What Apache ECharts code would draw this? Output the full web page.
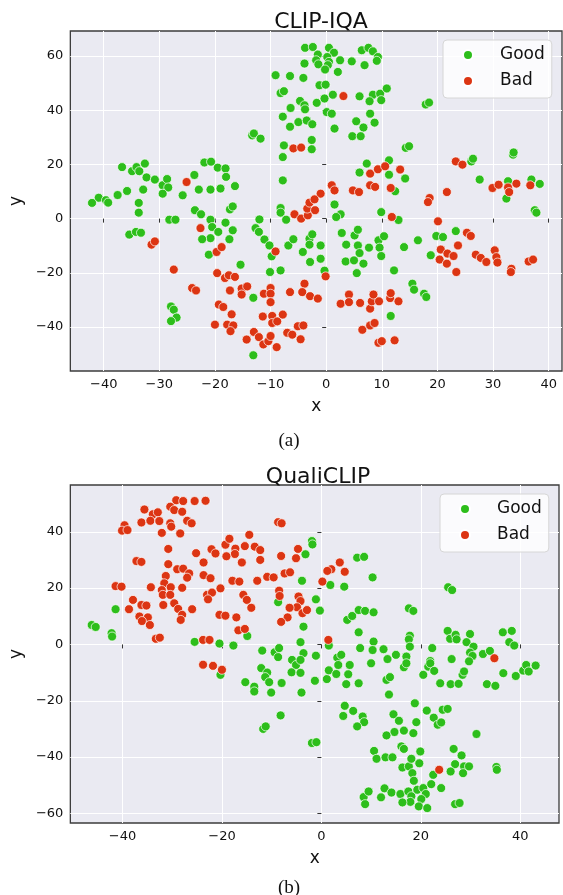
<!DOCTYPE html>
<html>
<head>
<meta charset="utf-8">
<script src="https://cdn.jsdelivr.net/npm/echarts@6/dist/echarts.min.js"></script>
<style>
html,body{margin:0;padding:0;background:#fff;}
#c{width:563px;height:895px;}
</style>
</head>
<body>
<div id="c"></div>
<script>
// ---- tick labels ----
const clipXTicks = [-40, -30, -20, -10, 0, 10, 20, 30, 40];
const clipYTicks = [-40, -20, 0, 20, 40, 60];
const qualiXTicks = [-40, -20, 0, 20, 40];
const qualiYTicks = [-60, -40, -20, 0, 20, 40];
const legendNames = ['Good', 'Bad'];

// ---- (a) CLIP-IQA ----
const clipGood = [
[-3.8,63.0],[-2.4,63.3],[-1.5,60.5],[-3.9,57.2],[-1.8,58.4],[-1.4,56.9],[-9.1,52.9],[-6.5,52.6],[-4.1,51.9],[-1.2,49.2],
[-8.2,46.3],[-7.6,47.0],[-4.7,43.4],[-3.9,41.8],[-3.8,40.3],[-6.4,40.8],[-1.7,42.7],[-7.8,37.6],[-5.0,35.6],[-3.5,36.2],
[-2.5,34.8],[-6.5,33.9],[-13.3,30.7],[-13.0,31.4],[-11.8,29.5],[-7.6,27.0],[-2.6,29.0],[-2.6,25.6],[-7.8,22.7],[-7.8,14.1],
[-36.7,19.0],[-34.9,17.5],[-34.1,19.0],[-33.6,17.5],[-32.6,20.3],[-32.3,15.2],[-30.8,14.4],[-29.4,12.3],[-28.6,14.6],[-28.4,11.5],
[-29.4,9.2],[-32.9,10.7],[-35.8,10.2],[-37.5,8.7],[-40.9,7.7],[-42.1,5.8],[-39.6,6.8],[-39.2,5.9],[-33.7,5.8],[-25.8,8.6],
[-23.7,16.1],[-21.9,20.7],[-20.7,21.0],[-19.5,18.8],[-18.1,18.5],[-18.0,15.4],[-22.9,10.7],[-20.8,10.7],[-19.0,11.1],[-16.4,12.0],
[0.5,63.0],[1.4,61.2],[0.2,59.6],[0.5,57.8],[0.3,56.6],[-0.2,55.0],[2.1,54.1],[2.5,58.4],[4.6,58.0],[6.4,62.1],
[7.6,63.0],[8.4,61.7],[9.3,59.6],[9.1,58.2],[6.9,56.6],[-0.1,49.4],[-0.3,44.3],[1.2,45.7],[6.0,45.1],[8.4,45.7],
[9.7,46.1],[10.9,48.0],[7.8,43.3],[9.9,43.7],[0.1,39.3],[1.0,38.7],[7.9,38.7],[17.9,42.1],[18.5,42.8],[5.4,35.9],
[8.7,35.4],[6.7,33.6],[1.5,33.2],[4.7,30.4],[6.2,30.4],[14.3,26.1],[14.9,26.7],[7.3,20.3],[11.3,21.5],[6.0,17.0],
[11.3,16.2],[14.2,14.8],[12.4,10.1],[26.1,21.1],[26.4,22.1],[33.6,23.6],[33.7,24.4],[27.6,14.4],[32.7,13.8],[36.9,14.4],
[38.4,12.8],[32.4,7.4],
[-33.7,2.2],[-35.4,-5.9],[-34.2,-4.9],[-33.3,-5.2],[-28.2,-0.4],[-27.1,-0.4],[-23.6,3.1],[-22.5,1.6],[-20.8,-0.4],[-20.5,-3.1],
[-19.4,-4.9],[-20.8,-7.2],[-22.3,-7.6],[-18.1,-1.5],[-16.8,-4.3],[-17.4,-7.6],[-17.3,3.4],[-16.8,4.5],[-21.1,-13.3],[-15.4,-17.0],
[-12.0,-0.3],[-12.7,-3.5],[-12.1,-4.9],[-11.1,-7.7],[-10.2,-9.9],[-9.8,-13.9],[-8.2,3.9],[-8.2,2.2],[-7.2,-0.4],[-10.1,-19.7],
[-8.2,-19.1],[-13.1,-29.2],[-27.9,-32.4],[-27.4,-33.6],[-26.9,-36.5],[-27.9,-37.8],[-6.8,-9.9],[-5.9,-7.6],[-4.2,-12.3],[-3.0,-7.4],
[-2.5,-5.8],[-3.0,-9.6],[-2.9,-16.0],[-1.0,-9.9],[-1.0,-14.8],[-13.1,-50.4],
[1.5,5.2],[2.6,1.6],[1.8,0.6],[9.9,2.4],[13.0,-0.5],[-0.3,-19.2],[2.8,-5.3],[3.6,-9.6],[3.5,-15.8],[5.1,-6.2],
[5.7,-4.1],[5.7,-9.9],[6.0,-12.7],[5.0,-15.4],[6.7,-16.6],[5.5,-20.1],[7.7,-10.7],[9.4,-8.0],[9.6,-10.7],[9.9,-13.8],
[10.4,-6.5],[12.2,-19.1],[14.0,-10.5],[16.5,-8.0],[15.5,-24.0],[15.8,-26.2],[17.6,-27.7],[18.0,-28.9],[11.6,-35.9],[18.8,-13.5],
[19.8,-6.4],[21.0,-6.8],[23.3,-4.6],[37.5,3.1],[37.8,2.2]
];
const clipBad = [
[-25.1,13.5],[-5.9,25.9],[-4.5,26.2],[-1.0,9.2],
[3.1,45.2],[7.9,16.6],[9.3,18.2],[10.6,19.3],[13.3,18.1],[7.9,12.3],[8.8,11.7],[11.6,11.3],[1.0,12.3],[1.5,10.4],
[4.8,10.4],[5.9,9.8],[23.3,21.1],[24.5,19.9],[21.7,9.8],[18.6,7.6],[18.3,6.1],[29.9,11.3],[31.0,12.5],[32.7,11.5],
[32.9,9.8],[34.2,12.9],[36.7,12.3],
[-31.4,-9.6],[-30.8,-8.4],[-22.6,-3.5],[-19.7,-12.3],[-18.8,-10.5],[-27.4,-18.8],[-24.1,-25.6],[-23.4,-26.5],[-19.6,-20.1],[-18.2,-21.9],
[-17.5,-20.9],[-16.4,-21.5],[-17.3,-26.5],[-15.2,-25.8],[-15.2,-28.0],[-14.2,-25.0],[-19.3,-31.7],[-18.5,-32.6],[-17.0,-35.3],[-20.0,-39.1],
[-17.8,-39.1],[-16.7,-39.4],[-17.2,-41.5],[-14.3,-44.6],[-13.0,-41.8],[-12.1,-43.7],[-11.3,-46.4],[-10.4,-45.2],[-10.0,-43.3],[-8.9,-47.4],
[-11.2,-27.7],[-10.0,-25.6],[-10.0,-27.7],[-10.0,-30.8],[-11.4,-36.1],[-9.7,-35.9],[-9.7,-38.5],[-8.8,-37.9],[-7.8,-35.4],[-7.0,-42.1],
[-6.1,-42.8],[-5.1,-39.7],[-4.1,-39.4],[-4.6,-44.5],[-6.5,-27.1],[-3.9,-24.0],[-4.3,-27.1],[-2.9,-28.6],[-1.5,-29.5],[-9.1,-12.1],
[-5.7,1.6],[-4.5,0.0],[-3.3,1.2],[-3.4,3.7],[-3.0,5.9],[-2.1,7.1],[-2.0,3.1],
[-0.1,-21.3],[2.6,-31.4],[4.1,-28.0],[4.1,-30.8],[6.1,-31.1],[7.9,-33.2],[8.2,-30.5],[8.5,-28.0],[9.5,-30.5],[11.5,-29.3],
[11.6,-27.5],[13.0,-30.5],[6.5,-41.0],[7.9,-39.4],[8.7,-38.5],[9.4,-45.8],[10.0,-45.2],[12.3,-44.9],[11.8,0.6],[20.1,-1.0],
[25.3,-5.2],[26.0,-6.4],[23.7,-9.9],[20.6,-11.4],[20.4,-15.1],[21.8,-12.9],[22.9,-13.8],[21.7,-16.6],[23.4,-19.7],[26.9,-13.3],
[27.8,-14.5],[28.8,-16.0],[30.3,-11.7],[30.6,-14.2],[30.8,-16.2],[33.3,-18.5],[33.2,-19.7],[36.4,-15.8],[37.2,-15.1]
];

// ---- (b) QualiCLIP ----
const qualiGood = [
[-1.9,36.7],[-1.8,35.5],[-3.2,32.0],[-3.9,22.6],[-1.1,16.0],[-0.3,12.0],[-8.7,15.0],[-3.6,6.3],[-4.2,0.8],[-3.6,-3.1],
[-1.1,-4.0],[-14.9,3.0],[-25.5,0.9],[-20.5,0.3],[-17.7,-0.4],[-11.9,-2.2],[-9.4,-2.8],[-8.5,-1.3],[-8.7,-4.5],[-5.9,-5.5],
[-41.4,12.5],[-46.2,6.9],[-45.4,6.2],[-42.2,4.0],[-42.1,2.8],
[7.2,30.8],[8.6,31.1],[10.3,23.8],[1.8,21.1],[4.6,20.5],[25.5,20.3],[26.3,19.3],[5.2,8.7],[6.2,10.1],[7.5,12.2],
[8.8,11.9],[10.5,11.4],[7.5,4.3],[1.5,-0.4],[7.8,-1.3],[10.5,1.0],[10.3,-2.0],[12.5,-1.7],[17.6,12.8],[18.5,11.9],
[17.8,3.1],[17.6,1.8],[17.8,-0.8],[22.3,-1.3],[25.4,4.8],[25.9,2.0],[27.0,3.4],[27.2,1.8],[29.9,3.7],[29.2,0.8],
[30.6,-0.8],[29.9,-2.9],[30.4,-4.1],[32.5,-3.4],[33.9,-2.3],[36.5,4.3],[38.3,4.8],[37.8,0.8],[38.8,-0.4],[3.2,-4.7],
[4.0,-3.7],[15.0,-3.7],[13.3,-5.2],[17.1,-4.3],[21.9,-5.9],[26.2,-5.2],
[-20.3,-10.8],[-15.3,-13.4],[-13.5,-15.0],[-13.5,-16.7],[-12.1,-8.4],[-10.9,-10.0],[-11.3,-11.6],[-10.5,-13.4],[-10.1,-17.1],[-8.0,-13.7],
[-5.1,-7.3],[-4.2,-5.5],[-6.0,-9.9],[-4.2,-10.1],[-4.0,-17.1],[-1.3,-12.9],[-8.2,-25.2],[-11.7,-30.0],[-11.2,-29.1],[-1.9,-35.0],
[-1.0,-34.7],
[1.1,-12.3],[1.5,-9.2],[3.0,-10.5],[3.4,-7.3],[5.0,-14.1],[5.4,-10.6],[5.7,-7.3],[7.5,-13.8],[10.0,-6.7],[16.6,-8.1],
[17.1,-6.7],[13.1,-12.6],[13.8,-11.6],[13.6,-17.8],[21.5,-7.9],[21.9,-6.7],[22.7,-9.4],[20.5,-10.8],[23.9,-13.8],[26.0,-14.1],
[27.6,-14.0],[28.4,-10.8],[28.7,-9.6],[29.7,-6.0],[33.3,-14.1],[35.0,-14.7],[36.6,-10.2],[39.1,-11.2],[40.6,-9.3],[41.2,-7.3],
[41.7,-9.6],[43.1,-7.5],[4.7,-21.8],[4.4,-25.4],[6.4,-23.6],[8.3,-25.6],[8.6,-27.6],[7.2,-29.1],[14.5,-24.8],[15.6,-27.1],
[16.6,-30.6],[14.7,-31.1],[13.1,-32.3],[18.5,-31.5],[19.1,-27.6],[18.8,-20.9],[21.2,-23.5],[22.6,-26.0],[23.4,-28.5],[24.1,-27.7],
[24.4,-23.2],[25.4,-22.9],[31.2,-31.8],[10.6,-37.8],[11.1,-40.6],[12.9,-40.1],[14.3,-40.1],[16.1,-36.2],[16.6,-37.1],[16.3,-43.7],
[17.6,-43.3],[18.1,-40.6],[19.9,-38.0],[19.7,-42.2],[18.3,-45.7],[18.6,-48.4],[22.5,-46.3],[24.1,-51.0],[26.6,-37.1],[28.2,-39.4],
[26.9,-42.5],[28.7,-43.3],[29.7,-43.3],[26.0,-45.1],[28.5,-45.7],[35.2,-43.5],[35.3,-44.5],[8.5,-54.2],[9.5,-52.2],[8.8,-56.7],
[12.0,-54.3],[12.7,-51.1],[14.1,-52.6],[15.9,-53.1],[17.5,-52.2],[18.1,-53.9],[17.9,-55.9],[16.3,-56.1],[19.3,-51.6],[20.5,-51.0],
[21.0,-53.1],[20.1,-54.9],[19.6,-57.5],[21.3,-58.1],[22.1,-49.6],[26.9,-56.7],[27.8,-56.3]
];
const qualiBad = [
[-29.2,51.2],[-27.8,50.9],[-25.5,50.9],[-23.3,51.0],[-30.4,48.9],[-29.6,47.7],[-28.0,47.1],[-35.6,47.9],[-33.9,46.2],[-32.9,46.9],
[-36.2,43.3],[-34.4,43.9],[-32.6,43.8],[-39.6,42.3],[-40.1,40.4],[-39.0,40.6],[-30.4,43.0],[-30.2,41.8],[-27.0,43.9],[-26.1,43.0],
[-32.1,39.6],[-28.4,39.4],[-30.8,33.9],[-37.2,29.6],[-36.2,29.3],[-30.8,28.5],[-25.2,32.4],[-22.1,33.8],[-21.3,32.3],[-23.7,29.1],
[-19.3,35.4],[-18.5,37.5],[-17.3,34.0],[-17.4,32.1],[-19.1,31.3],[-15.4,34.9],[-16.0,29.1],[-14.5,38.9],[-13.4,34.7],[-12.3,33.5],
[-12.3,30.0],[-8.7,43.4],[-8.0,43.0],[-8.1,31.4],[-5.1,30.6],[-4.7,33.9],[-29.0,26.7],[-27.8,26.9],[-26.6,25.2],[-27.0,23.7],
[-31.3,24.3],[-31.6,21.7],[-32.1,19.3],[-30.3,20.3],[-31.9,17.6],[-30.4,17.6],[-28.0,20.1],[-41.4,20.7],[-40.2,20.5],[-34.3,20.3],
[-37.9,15.8],[-38.7,12.5],[-36.2,14.0],[-35.2,13.8],[-36.6,9.9],[-34.9,9.6],[-36.1,8.3],[-34.5,6.9],[-31.8,14.0],[-29.6,14.6],
[-28.8,12.6],[-28.0,10.5],[-28.3,8.7],[-26.0,12.5],[-33.3,2.0],[-32.5,2.4],[-23.7,24.6],[-22.3,23.5],[-23.0,17.6],[-22.0,18.4],
[-22.8,16.0],[-20.3,19.9],[-20.5,10.5],[-19.3,10.2],[-17.1,9.6],[-17.9,22.6],[-16.5,22.3],[-12.9,22.6],[-15.7,17.6],[-15.0,15.8],
[-14.1,13.0],[-16.7,5.0],[-15.4,5.5],[-23.8,1.6],[-22.5,1.6],[-10.9,24.0],[-9.6,23.8],[-7.4,25.2],[-6.3,25.6],[-8.5,19.1],
[-8.4,17.2],[-4.6,17.0],[-4.2,15.4],[-4.9,13.2],[-6.4,13.0],[-3.8,11.1],[-2.9,12.2],[-6.8,9.6],[-8.1,8.0],[0.2,22.3],
[3.7,29.1],[2.0,26.7],[1.2,26.1],[4.7,25.8],[1.4,1.6],[34.8,-4.9],
[-23.8,-7.2],[-21.8,-7.6],[-20.0,-9.0],[23.7,-44.5]
];

const GREEN = '#2dbe1b';
const RED = '#dc3513';
const FONT = 'DejaVu Sans';

function xAxisCfg(grid, min, max, ticks) {
  return {
    type: 'value', gridIndex: grid, min: min, max: max,
    name: 'x', nameLocation: 'middle', nameGap: 27,
    nameTextStyle: { fontFamily: FONT, fontSize: 17, color: '#111' },
    axisLine: { show: false },
    axisTick: { show: true, inside: false, length: 4, customValues: ticks, lineStyle: { color: '#333', width: 1 } },
    axisLabel: { customValues: ticks, margin: 7, fontFamily: FONT, fontSize: 13, color: '#111',
      formatter: v => (v < 0 ? '\u2212' + Math.abs(v) : String(v)) },
    splitLine: { show: true, lineStyle: { color: '#ffffff', width: 1 } }
  };
}
function yAxisCfg(grid, min, max, ticks) {
  return {
    type: 'value', gridIndex: grid, min: min, max: max,
    name: 'y', nameLocation: 'middle', nameGap: 42, nameRotate: 90,
    nameTextStyle: { fontFamily: FONT, fontSize: 17, color: '#111' },
    axisLine: { show: false },
    axisTick: { show: true, inside: false, length: 4, customValues: ticks, lineStyle: { color: '#333', width: 1 } },
    axisLabel: { customValues: ticks, margin: 7, fontFamily: FONT, fontSize: 13, color: '#111',
      formatter: v => (v < 0 ? '\u2212' + Math.abs(v) : String(v)) },
    splitLine: { show: true, lineStyle: { color: '#ffffff', width: 1 } }
  };
}
function legendCfg(left, top) {
  return {
    orient: 'vertical', left: left, top: top, data: legendNames,
    icon: 'circle', itemWidth: 10, itemHeight: 10, itemGap: 6,
    backgroundColor: 'rgba(255,255,255,0.8)', borderColor: '#d6d6d6', borderWidth: 1, borderRadius: 4,
    padding: [5, 7, 7, 19],
    textStyle: { fontFamily: FONT, fontSize: 17, color: '#111', lineHeight: 20, padding: [0, 0, 0, 22] },
    selectedMode: false
  };
}
function scatter(name, data, idx, color) {
  return {
    type: 'scatter', name: name, data: data, xAxisIndex: idx, yAxisIndex: idx,
    symbol: 'circle', symbolSize: 9,
    itemStyle: { color: color, borderColor: '#ffffff', borderWidth: 0.7, opacity: 1 },
    emphasis: { disabled: true }, animation: false
  };
}

const chart = echarts.init(document.getElementById('c'), null, { renderer: 'canvas' });
chart.setOption({
  animation: false,
  backgroundColor: '#ffffff',
  title: [
    { text: 'CLIP-IQA', left: 316, top: 6, textAlign: 'center',
      textStyle: { fontFamily: FONT, fontSize: 22, fontWeight: 'normal', color: '#111' } },
    { text: '(a)', left: 284, top: 427, textAlign: 'center',
      textStyle: { fontFamily: 'Liberation Serif', fontSize: 19, fontWeight: 'normal', color: '#111' } },
    { text: 'QualiCLIP', left: 313, top: 461, textAlign: 'center',
      textStyle: { fontFamily: FONT, fontSize: 22, fontWeight: 'normal', color: '#111' } },
    { text: '(b)', left: 284, top: 874, textAlign: 'center',
      textStyle: { fontFamily: 'Liberation Serif', fontSize: 19, fontWeight: 'normal', color: '#111' } }
  ],
  legend: [legendCfg(443, 40), legendCfg(440, 494)],
  grid: [
    { left: 68, top: 31, width: 494, height: 340, show: true, backgroundColor: '#eaeaf2',
      borderColor: '#3c3c3c', borderWidth: 1.3, containLabel: false },
    { left: 65, top: 485, width: 494, height: 338, show: true, backgroundColor: '#eaeaf2',
      borderColor: '#3c3c3c', borderWidth: 1.3, containLabel: false }
  ],
  xAxis: [xAxisCfg(0, -46, 42.4, clipXTicks), xAxisCfg(1, -50.5, 47.8, qualiXTicks)],
  yAxis: [yAxisCfg(0, -56.2, 69.2, clipYTicks), yAxisCfg(1, -63.4, 56.6, qualiYTicks)],
  series: [
    scatter('Good', clipGood, 0, GREEN),
    scatter('Bad', clipBad, 0, RED),
    scatter('Good', qualiGood, 1, GREEN),
    scatter('Bad', qualiBad, 1, RED)
  ]
});
</script>
</body>
</html>
